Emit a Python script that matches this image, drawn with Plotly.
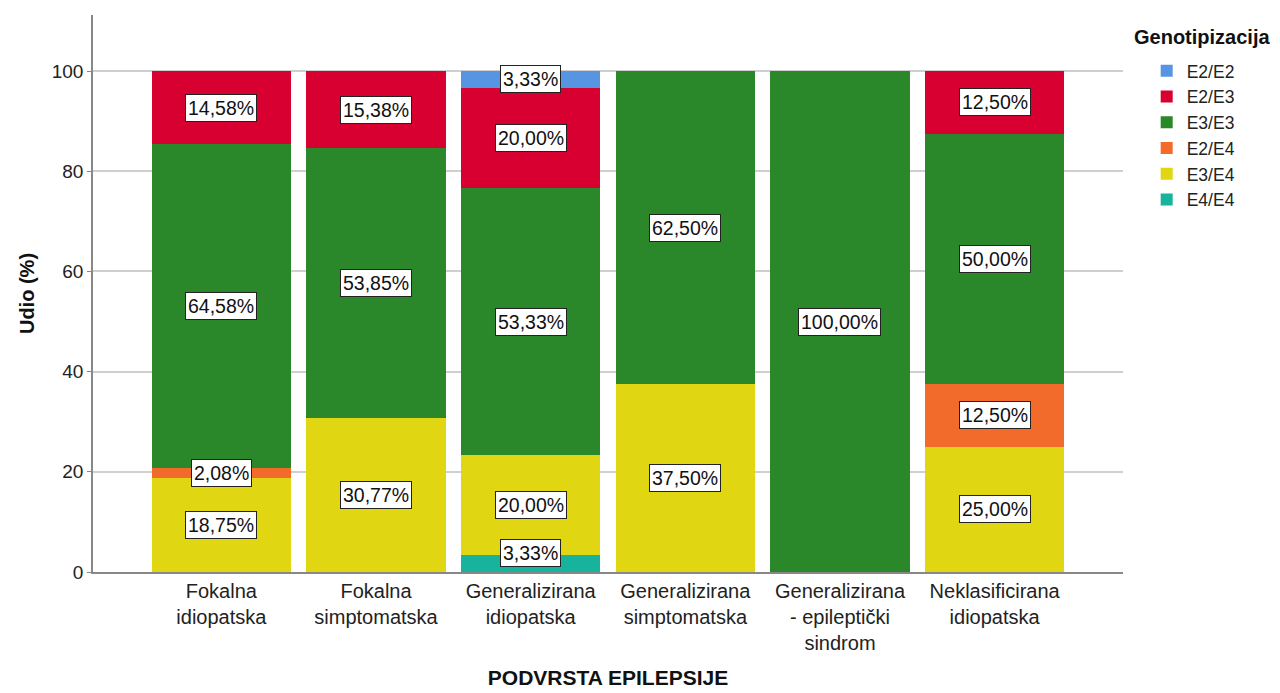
import plotly.graph_objects as go

categories = [
    "Fokalna<br>idiopatska",
    "Fokalna<br>simptomatska",
    "Generalizirana<br>idiopatska",
    "Generalizirana<br>simptomatska",
    "Generalizirana<br>- epileptički<br>sindrom",
    "Neklasificirana<br>idiopatska",
]

# stacked bottom -> top
genotypes = ["E4/E4", "E3/E4", "E2/E4", "E3/E3", "E2/E3", "E2/E2"]
e4e4 = [0, 0, 3.33, 0, 0, 0]
e3e4 = [18.75, 30.77, 20.00, 37.50, 0, 25.00]
e2e4 = [2.08, 0, 0, 0, 0, 12.50]
e3e3 = [64.58, 53.85, 53.33, 62.50, 100.00, 50.00]
e2e3 = [14.58, 15.38, 20.00, 0, 0, 12.50]
e2e2 = [0, 0, 3.33, 0, 0, 0]
series = [e4e4, e3e4, e2e4, e3e3, e2e3, e2e2]
colors = ["#17B39C", "#E0D611", "#F26B2B", "#2A872A", "#D80030", "#5794E2"]

FONT = "Liberation Sans, Arial, sans-serif"

fig = go.Figure()
for name, vals, col in zip(genotypes, series, colors):
    fig.add_trace(go.Bar(
        x=categories, y=vals, name=name,
        marker=dict(color=col, line=dict(width=0)),
    ))

# value labels in boxes
annotations = []
for i, cat in enumerate(categories):
    base = 0.0
    for vals in series:
        v = vals[i]
        if v > 0:
            mid = max(base + v / 2, 3.8)
            annotations.append(dict(
                x=cat, y=mid, xref="x", yref="y",
                text=f"{v:.2f}".replace(".", ",") + "%",
                showarrow=False,
                font=dict(family=FONT, size=19.5, color="#111"),
                bgcolor="white", bordercolor="#222", borderwidth=1, borderpad=2,
            ))
        base += v

annotations.append(dict(
    x=1.0087, y=0.9605, xref="paper", yref="paper", xanchor="left", yanchor="middle",
    text="<b>Genotipizacija</b>", showarrow=False,
    font=dict(family=FONT, size=20, color="#111"),
))

fig.update_layout(
    barmode="stack",
    bargap=0.1,
    width=1280, height=693,
    margin=dict(l=93, r=157, t=15, b=121, autoexpand=False),
    paper_bgcolor="white", plot_bgcolor="white",
    font=dict(family=FONT, size=19, color="#222"),
    annotations=annotations,
    showlegend=True,
    legend=dict(
        traceorder="reversed",
        x=1.023, y=0.932, xanchor="left", yanchor="top",
        font=dict(family=FONT, size=17.5, color="#222"),
        tracegroupgap=0, itemclick=False,
        bgcolor="rgba(0,0,0,0)",
    ),
    xaxis=dict(
        type="category",
        range=[-0.83, 5.83],
        automargin=False,
        showgrid=False,
        showline=True, linecolor="#888", linewidth=1.5,
        ticks="",
        tickfont=dict(family=FONT, size=20, color="#222"),
        title=dict(text="<b>PODVRSTA EPILEPSIJE</b>",
                   font=dict(family=FONT, size=21, color="#111"), standoff=18),
    ),
    yaxis=dict(
        range=[0, 111.2],
        automargin=False,
        tickvals=[0, 20, 40, 60, 80, 100],
        showgrid=True, gridcolor="#CFCFCF", gridwidth=1.5,
        showline=True, linecolor="#888", linewidth=1.5,
        ticks="outside", ticklen=4, tickcolor="#888",
        zeroline=False,
        tickfont=dict(family=FONT, size=19, color="#222"),
        title=dict(text="<b>Udio (%)</b>",
                   font=dict(family=FONT, size=20, color="#111"), standoff=12),
    ),
)

fig.write_html(
    "out.html",
    config={"displayModeBar": False},
    post_script="document.body.style.margin='0';document.body.style.overflow='hidden';",
)
